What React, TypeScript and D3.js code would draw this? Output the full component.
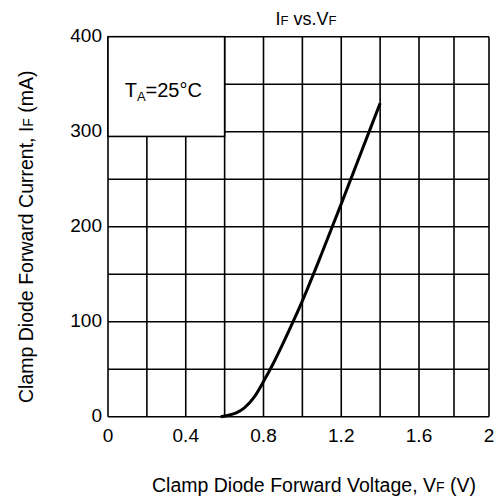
import React from "react";
import * as d3 from "d3";

const voltage = [0.58, 0.62, 0.66, 0.7, 0.75, 0.8, 0.85, 0.9, 0.95, 1.0, 1.1, 1.2, 1.3, 1.4];
const current = [0, 1.5, 4, 9, 20, 37, 56, 77, 99, 122, 172, 224, 277, 330];
const xTicks = [0, 0.4, 0.8, 1.2, 1.6, 2];
const xGrid = [0, 0.2, 0.4, 0.6, 0.8, 1.0, 1.2, 1.4, 1.6, 1.8, 2.0];
const yTicks = [0, 100, 200, 300, 400];
const yGrid = [0, 50, 100, 150, 200, 250, 300, 350, 400];
const boxX = [0, 0.6];
const boxY = [295, 400];

const W = 499;
const H = 503;
const FONT = "'Liberation Sans', Arial, sans-serif";

export default function App() {
  const x = d3.scaleLinear().domain([0, 1.6, 2]).range([108, 419, 489]);
  const y = d3.scaleLinear().domain([0, 400]).range([416.7, 36.7]);
  const pts = voltage.map((v, i) => [v, current[i]] as [number, number]);
  const line = d3
    .line<[number, number]>()
    .x((d) => x(d[0]))
    .y((d) => y(d[1]))
    .curve(d3.curveMonotoneX);

  return (
    <svg
      width={W}
      height={H}
      style={{ position: "absolute", left: 0, top: 0, background: "#fff" }}
      fontFamily={FONT}
    >
      <rect x={0} y={0} width={W} height={H} fill="#fff" />
      {xGrid.map((v) => (
        <line key={"gx" + v} x1={x(v)} x2={x(v)} y1={y(0)} y2={y(400)} stroke="#000" strokeWidth={1.6} />
      ))}
      {yGrid.map((v) => (
        <line key={"gy" + v} x1={x(0)} x2={x(2)} y1={y(v)} y2={y(v)} stroke="#000" strokeWidth={1.6} />
      ))}
      <rect
        x={x(boxX[0])}
        y={y(boxY[1])}
        width={x(boxX[1]) - x(boxX[0])}
        height={y(boxY[0]) - y(boxY[1])}
        fill="#fff"
        stroke="#000"
        strokeWidth={1.6}
      />
      <text x={(x(boxX[0]) + x(boxX[1])) / 2 - 3} y={96.5} fontSize={20} textAnchor="middle">
        T<tspan fontSize={13} dy={4}>A</tspan>
        <tspan dy={-4}>=25°C</tspan>
      </text>
      <path d={line(pts) || ""} fill="none" stroke="#000" strokeWidth={3} />
      {yTicks.map((v) => (
        <text key={"yt" + v} x={102} y={y(v) + 5} fontSize={19} textAnchor="end">
          {v}
        </text>
      ))}
      {xTicks.map((v) => (
        <text key={"xt" + v} x={x(v)} y={442} fontSize={19} textAnchor="middle">
          {v}
        </text>
      ))}
      <text x={306} y={25} fontSize={18} textAnchor="middle">
        I<tspan fontSize={13}>F</tspan> vs.V<tspan fontSize={13}>F</tspan>
      </text>
      <text x={152} y={492} fontSize={19.5} textAnchor="start">
        Clamp Diode Forward Voltage, V<tspan fontSize={14}>F</tspan> (V)
      </text>
      <text transform="translate(33,403) rotate(-90)" fontSize={19.5} textAnchor="start">
        Clamp Diode Forward Current, I<tspan fontSize={14}>F</tspan> (mA)
      </text>
    </svg>
  );
}
